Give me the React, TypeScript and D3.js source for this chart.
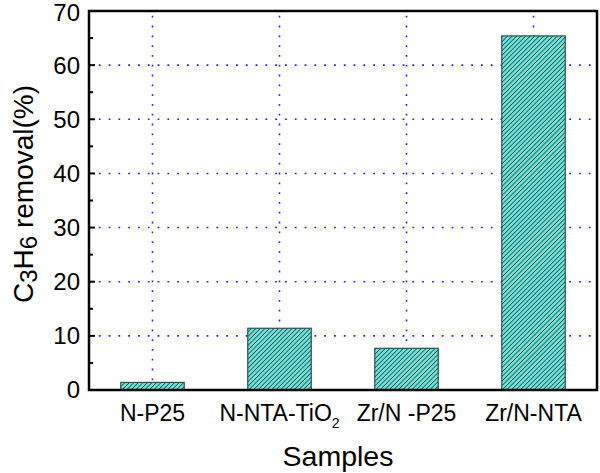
import React from "react";
import * as d3 from "d3";

const categories = ["N-P25", "N-NTA-TiO2", "Zr/N -P25", "Zr/N-NTA"];
const values = [1.4, 11.4, 7.7, 65.4];
const yTicks = [0, 10, 20, 30, 40, 50, 60, 70];
const yMinor = [5, 15, 25, 35, 45, 55, 65];
const gridY = [10, 20, 30, 40, 50, 60];

export default function App() {
  const W = 600, H = 473;
  const left = 89, right = 597, top = 11, bottom = 390;
  const x = d3.scaleBand<string>().domain(categories).range([left, right]).paddingInner(0.5).paddingOuter(0.25);
  const y = d3.scaleLinear().domain([0, 70]).range([bottom, top]);
  const font = "Arial, 'Liberation Sans', sans-serif";

  const renderLabel = (c: string) => {
    if (c === "N-NTA-TiO2") {
      return (
        <>
          N-NTA-TiO<tspan fontSize={14} dy={7}>2</tspan>
        </>
      );
    }
    return c;
  };

  return (
    <svg width={W} height={H} style={{ position: "absolute", left: 0, top: 0 }} fontFamily={font}>
      <defs>
        <pattern id="hatch" patternUnits="userSpaceOnUse" width={3.2} height={3.2} patternTransform="rotate(45)">
          <rect width={3.2} height={3.2} fill="#6ee8df" />
          <line x1={0} y1={0} x2={0} y2={3.2} stroke="#0a1515" strokeWidth={1.3} />
        </pattern>
      </defs>
      <rect width={W} height={H} fill="#fff" />
      {gridY.map((v) => (
        <line key={"gy" + v} x1={left} x2={right} y1={y(v)} y2={y(v)} stroke="#1f1fff" strokeWidth={1.6} strokeDasharray="1.8,8" />
      ))}
      {categories.map((c) => (
        <line key={"gx" + c} x1={x(c)! + x.bandwidth() / 2} x2={x(c)! + x.bandwidth() / 2} y1={bottom} y2={top} stroke="#1f1fff" strokeWidth={1.6} strokeDasharray="1.8,8" />
      ))}
      {categories.map((c, i) => (
        <rect key={"b" + c} x={x(c)!} y={y(values[i])} width={x.bandwidth()} height={bottom - y(values[i])} fill="url(#hatch)" stroke="#2f4f4f" strokeWidth={1.2} />
      ))}
      <rect x={left} y={top} width={right - left} height={bottom - top} fill="none" stroke="#000" strokeWidth={2.5} />
      {yTicks.map((v) => (
        <g key={"yt" + v}>
          <line x1={left} x2={left + 6} y1={y(v)} y2={y(v)} stroke="#000" strokeWidth={2} />
          <text x={80} y={Math.max(y(v), 13)} dy="0.35em" textAnchor="end" fontSize={24}>{v}</text>
        </g>
      ))}
      {yMinor.map((v) => (
        <line key={"ym" + v} x1={left} x2={left + 4} y1={y(v)} y2={y(v)} stroke="#000" strokeWidth={2} />
      ))}
      {categories.map((c) => (
        <text key={"xl" + c} x={x(c)! + x.bandwidth() / 2} y={421} textAnchor="middle" fontSize={23}>
          {renderLabel(c)}
        </text>
      ))}
      <text x={338} y={466} textAnchor="middle" fontSize={28.5}>Samples</text>
      <text transform={`translate(33,${194}) rotate(-90)`} textAnchor="middle" fontSize={28}>
        C<tspan fontSize={24} dy={4}>3</tspan><tspan dy={-4}>H</tspan><tspan fontSize={24} dy={4}>6</tspan><tspan dy={-4}> removal(%)</tspan>
      </text>
    </svg>
  );
}
